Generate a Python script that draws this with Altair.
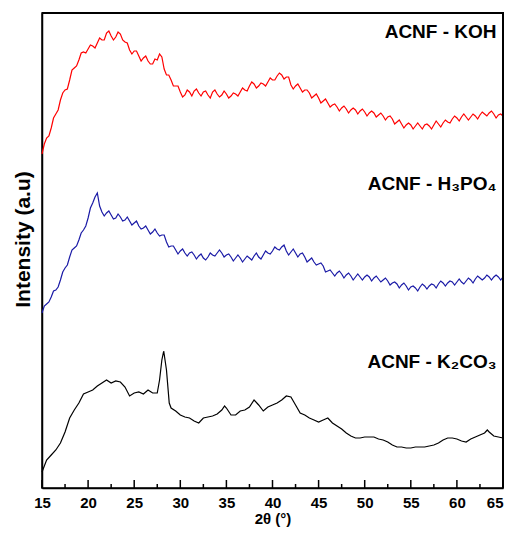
import altair as alt
import pandas as pd

# 2-theta grids (degrees)
theta_grid = [15.0 + 0.5 * i for i in range(101)]
theta_mid = [15.25 + 0.5 * i for i in range(100)]

# ACNF - KOH (red) intensity, a.u. (values at theta_grid, then at theta_mid)
koh = [334, 350, 360, 374, 388, 398, 408, 420, 428, 436,
       439, 442, 445, 448, 455, 452, 451, 454, 446, 438,
       437, 432, 430, 427, 424, 428, 431, 413, 408, 402,
       396, 393, 396, 397, 395, 396, 393, 396, 394, 393,
       394, 392, 394, 396, 398, 402, 404, 402, 404, 406,
       408, 412, 413, 411, 403, 402, 400, 398, 395, 392,
       390, 387, 385, 383, 381, 380, 379, 378, 378, 377,
       376, 375, 375, 373, 372, 371, 369, 366, 364, 363,
       363, 362, 362, 363, 362, 363, 364, 365, 366, 369,
       370, 371, 371, 371, 372, 373, 374, 375, 374, 373,
       372]
koh_mid = [344, 352, 370, 378, 395, 399, 418, 422, 435, 435,
           443, 440, 450, 448, 457, 448, 456, 448, 445, 434,
           437, 427, 432, 424, 429, 434, 419, 413, 402, 402,
           391, 398, 392, 399, 392, 397, 390, 398, 391, 397,
           390, 395, 392, 400, 397, 406, 400, 405, 402, 410,
           408, 415, 409, 411, 399, 404, 396, 398, 390, 394,
           385, 389, 381, 384, 377, 382, 375, 380, 374, 379,
           372, 377, 371, 375, 368, 372, 364, 368, 360, 365,
           359, 365, 359, 364, 359, 367, 361, 368, 365, 372,
           367, 374, 368, 374, 369, 376, 372, 377, 370, 374]

# ACNF - H3PO4 (blue) intensity, a.u.
h3po4 = [175, 184, 191, 198, 208, 220, 231, 240, 248, 258,
         270, 285, 295, 276, 275, 273, 270, 271, 268, 267,
         265, 262, 260, 258, 256, 255, 253, 246, 242, 238,
         237, 235, 235, 233, 232, 230, 231, 233, 235, 235,
         233, 231, 230, 230, 229, 230, 232, 231, 233, 235,
         237, 239, 241, 237, 236, 235, 234, 231, 228, 226,
         224, 222, 217, 215, 215, 214, 213, 212, 211, 211,
         211, 211, 210, 209, 208, 207, 205, 204, 203, 202,
         201, 200, 201, 202, 202, 203, 204, 205, 205, 206,
         206, 206, 207, 208, 209, 210, 210, 211, 211, 211,
         211]
h3po4_mid = [182, 186, 197, 201, 216, 223, 238, 242, 255, 262,
             280, 291, 282, 272, 277, 269, 274, 267, 271, 263,
             267, 259, 262, 254, 259, 252, 253, 241, 242, 234,
             239, 232, 236, 229, 234, 228, 235, 232, 238, 231,
             234, 227, 233, 226, 232, 228, 235, 229, 237, 234,
             241, 238, 243, 233, 239, 231, 235, 226, 230, 223,
             225, 216, 218, 212, 217, 210, 215, 208, 214, 208,
             213, 207, 212, 206, 210, 203, 206, 200, 205, 198,
             202, 197, 204, 199, 204, 200, 207, 202, 207, 203,
             209, 204, 210, 205, 212, 208, 213, 208, 213, 208]

# ACNF - K2CO3 (black)
k2co3_theta = [15.0, 15.5, 16.0, 16.5, 17.0, 17.5, 18.0, 18.5, 19.0, 19.5,
               20.0, 20.5, 21.0, 21.5, 22.0, 22.5, 23.0, 23.5, 24.0, 24.5,
               25.0, 25.5, 26.0, 26.5, 27.0, 27.5, 27.75, 28.0, 28.2, 28.5,
               28.8, 29.0, 29.5, 30.0, 30.5, 31.0, 31.5, 32.0, 32.5, 33.0,
               33.5, 34.0, 34.5, 34.8, 35.0, 35.5, 36.0, 36.5, 37.0, 37.5,
               38.0, 38.5, 39.0, 39.5, 40.0, 40.5, 41.0, 41.5, 42.0, 42.5,
               43.0, 43.5, 44.0, 44.5, 45.0, 45.5, 46.0, 46.5, 47.0, 47.5,
               48.0, 48.5, 49.0, 49.5, 50.0, 50.5, 51.0, 51.5, 52.0, 52.5,
               53.0, 53.5, 54.0, 54.5, 55.0, 55.5, 56.0, 56.5, 57.0, 57.5,
               58.0, 58.5, 59.0, 59.5, 60.0, 60.5, 61.0, 61.5, 62.0, 62.5,
               63.0, 63.3, 63.5, 64.0, 64.5, 65.0]
k2co3 = [16, 28, 33, 38, 45, 56, 70, 78, 85, 94,
         96, 98, 102, 105, 108, 105, 107, 106, 101, 92,
         95, 96, 94, 98, 95, 95, 108, 128, 137, 118,
         85, 80, 77, 73, 71, 70, 67, 65, 70, 71,
         72, 74, 78, 82, 80, 73, 73, 77, 78, 81,
         88, 83, 77, 81, 83, 85, 88, 92, 91, 83,
         75, 73, 70, 68, 66, 68, 70, 65, 62, 59,
         55, 52, 50, 50, 51, 51, 51, 49, 48, 46,
         43, 41, 41, 40, 40, 41, 41, 41, 42, 43,
         45, 48, 50, 50, 49, 47, 46, 49, 51, 53,
         55, 58, 56, 52, 51, 50]

series_names = ["ACNF - KOH", "ACNF - H₃PO₄", "ACNF - K₂CO₃"]
series_colors = ["#ff0000", "#1a1aa6", "#000000"]

label_theta = [64.3, 64.3, 64.3]
label_y = [456, 304, 126]

major_ticks = [15, 20, 25, 30, 35, 40, 45, 50, 55, 60, 65]
minor_ticks = [17.5, 22.5, 27.5, 32.5, 37.5, 42.5, 47.5, 52.5, 57.5, 62.5]

# frame corners (top-left, top-right, bottom-right) in data units
frame_t = [15, 65, 65]
frame_v = [475, 475, 0]
frame_order = [0, 1, 2]

rows = []
for t, v in zip(theta_grid + theta_mid, koh + koh_mid):
    rows.append({"s": series_names[0], "t": t, "v": v})
for t, v in zip(theta_grid + theta_mid, h3po4 + h3po4_mid):
    rows.append({"s": series_names[1], "t": t, "v": v})
for t, v in zip(k2co3_theta, k2co3):
    rows.append({"s": series_names[2], "t": t, "v": v})
df = pd.DataFrame(rows).sort_values(["s", "t"]).reset_index(drop=True)

labels_df = pd.DataFrame({"s": series_names, "t": label_theta, "v": label_y})
major_df = pd.DataFrame({"t": major_ticks})
minor_df = pd.DataFrame({"t": minor_ticks})
frame_df = pd.DataFrame({"t": frame_t, "v": frame_v, "o": frame_order})

xscale = alt.Scale(domain=[15, 65], nice=False, zero=False)
yscale = alt.Scale(domain=[0, 475], nice=False, zero=False)

xaxis = alt.Axis(values=major_ticks, ticks=False, grid=False, labelFontSize=15,
                 labelFontWeight="bold", labelFont="Liberation Sans", labelColor="black",
                 labelAlign={"condition": {"test": "datum.value >= 65", "value": "right"},
                             "value": "center"},
                 labelPadding=7, title="2θ (°)", titleFontSize=15, titleFont="Liberation Sans",
                 titleFontWeight="bold", titleColor="black", titleY=38,
                 titleBaseline="bottom",
                 domainColor="black", domainWidth=1.5, labelFlush=False)
yaxis = alt.Axis(ticks=False, labels=False, grid=False, title="Intensity (a.u)",
                 titleFontSize=21, titleFont="Liberation Sans", titleFontWeight="bold",
                 titleColor="black", titleX=-9, titleY=226, titleBaseline="bottom",
                 domainColor="black", domainWidth=1.5)

lines = alt.Chart(df).mark_line(strokeWidth=1.2, interpolate="linear").encode(
    x=alt.X("t:Q", scale=xscale, axis=xaxis),
    y=alt.Y("v:Q", scale=yscale, axis=yaxis),
    color=alt.Color("s:N", scale=alt.Scale(domain=series_names, range=series_colors), legend=None),
    detail="s:N",
    order="t:Q",
)

frame = alt.Chart(frame_df).mark_line(color="black", strokeWidth=2, clip=False).encode(
    x=alt.X("t:Q", scale=xscale),
    y=alt.Y("v:Q", scale=yscale),
    order="o:Q",
)

major = alt.Chart(major_df).mark_rule(color="black", strokeWidth=1.5).encode(
    x=alt.X("t:Q", scale=xscale), y=alt.value(475), y2=alt.value(467)
)
minor = alt.Chart(minor_df).mark_rule(color="black", strokeWidth=1.5).encode(
    x=alt.X("t:Q", scale=xscale), y=alt.value(475), y2=alt.value(471)
)

texts = alt.Chart(labels_df).mark_text(align="right", baseline="middle", fontSize=19,
                                       fontWeight="bold", font="Liberation Sans",
                                       color="black").encode(
    x=alt.X("t:Q", scale=xscale), y=alt.Y("v:Q", scale=yscale), text="s:N"
)

chart = alt.layer(lines, frame, major, minor, texts).properties(
    width=461, height=475,
    background="white",
    autosize=alt.AutoSizeParams(type="none"),
    padding={"left": 34, "top": 5, "right": 1, "bottom": 39},
).configure_view(stroke="black", strokeWidth=1.5)

chart.save("out.html", embed_options={"renderer": "svg", "actions": False})
